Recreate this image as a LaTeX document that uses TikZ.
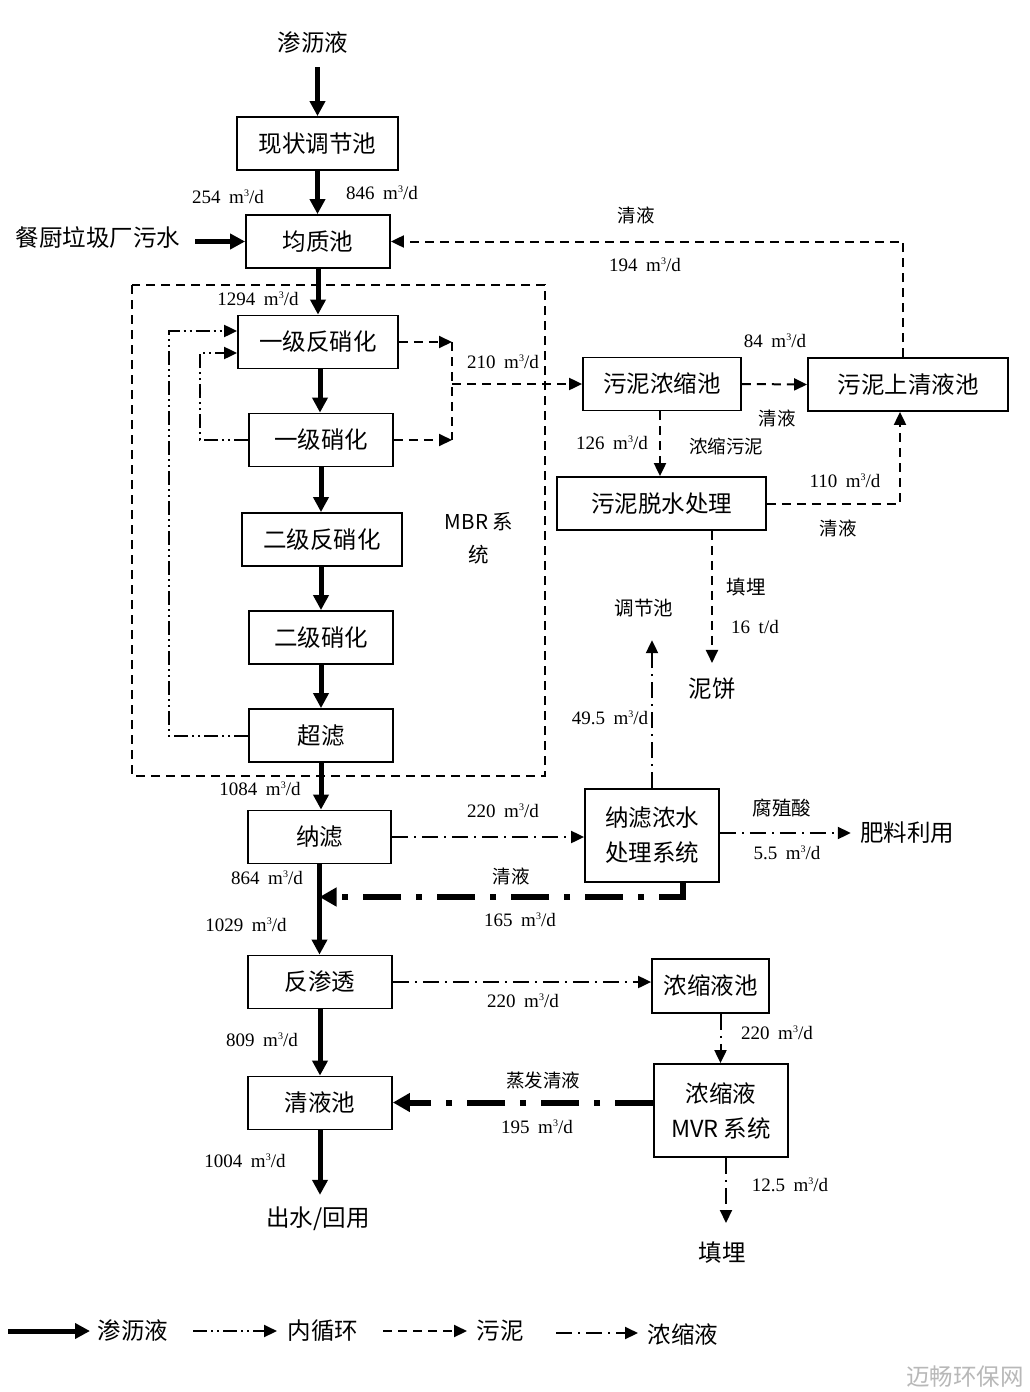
\documentclass[tikz,border=0pt]{standalone}
\usepackage{fontspec}
\setmainfont{Noto Sans CJK SC}
\newfontfamily\numf{Liberation Serif}
\usetikzlibrary{arrows.meta}
\newcommand\fq[1]{{\numf\fontsize{19}{22}\selectfont #1\hspace{0.45em}m\raisebox{0.75ex}{\fontsize{10}{10}\selectfont 3}/d}}
\tikzset{
  box/.style={draw, line width=1.8pt, inner sep=0pt, minimum height=53pt, font=\fontsize{23.5}{35}\selectfont, align=center},
  lab/.style={inner sep=1pt, font=\fontsize{18.5}{22}\selectfont},
  mid/.style={inner sep=1pt, font=\fontsize{19.5}{22}\selectfont},
  big/.style={inner sep=1pt, font=\fontsize{23.5}{26}\selectfont},
  num/.style={inner sep=1pt},
  flow/.style={line width=5pt, -{Triangle[length=15pt,width=15pt]}},
  sl/.style={line width=2pt, dash pattern=on 9pt off 6pt},
  sltip/.style={-{Triangle[length=13pt,width=12pt]}},
  inl/.style={line width=2pt, dash pattern=on 14pt off 4pt on 2pt off 4pt on 2pt off 4pt, -{Triangle[length=13pt,width=12pt]}},
  conc/.style={line width=2pt, dash pattern=on 16pt off 6pt on 2pt off 6pt, -{Triangle[length=13pt,width=12pt]}},
  tconc/.style={line width=6pt, dash pattern=on 38pt off 15pt on 6pt off 15pt, -{Triangle[length=17pt,width=18pt]}},
}
\begin{document}
\begin{tikzpicture}[x=1pt,y=-1pt]
\useasboundingbox[fill=white] (0,0) rectangle (1029,1392);

% MBR frame
\draw[sl] (132,285) rectangle (545,776);

% boxes
\node[box, minimum width=161pt] (tj) at (317.5,143.5) {现状调节池};
\node[box, minimum width=144pt] (jz) at (318,241.5) {均质池};
\node[box, minimum width=160pt] (f1) at (318,342) {一级反硝化};
\node[box, minimum width=144pt] (x1) at (321,440) {一级硝化};
\node[box, minimum width=160pt] (f2) at (322,539.5) {二级反硝化};
\node[box, minimum width=144pt] (x2) at (321,637.5) {二级硝化};
\node[box, minimum width=144pt] (cl) at (321,735.5) {超滤};
\node[box, minimum width=143pt] (nl) at (319.5,837) {纳滤};
\node[box, minimum width=144pt] (fs) at (320,982) {反渗透};
\node[box, minimum width=144pt] (qy) at (320,1103) {清液池};
\node[box, minimum width=158pt] (ns) at (662,384) {污泥浓缩池};
\node[box, minimum width=200pt] (sq) at (908,384.5) {污泥上清液池};
\node[box, minimum width=209pt] (ts) at (661.5,503.5) {污泥脱水处理};
\node[box, minimum width=134pt, minimum height=93pt] (nc) at (652,835.5) {纳滤浓水\\处理系统};
\node[box, minimum width=117pt, minimum height=54pt] (nyc) at (710.5,986) {浓缩液池};
\node[box, minimum width=134pt, minimum height=93pt] (mvr) at (721,1110.5) {浓缩液\\MVR 系统};

% free texts
\node[big] (src) at (313,43) {渗沥液};
\node[big] (cw) at (98,238) {餐厨垃圾厂污水};
\node[big] (nb) at (712,689) {泥饼};
\node[mid] (tjc) at (644,608) {调节池};
\node[big] (fl) at (907,833) {肥料利用};
\node[big] (out) at (318,1219) {出水/回用};
\node[big] (tm) at (722,1253) {填埋};
\node[inner sep=1pt, font=\fontsize{20.5}{33}\selectfont, align=center] (mbr) at (479,538) {MBR 系\\统};

% labels
\node[num] (l1) at (228,197) {\fq{254}};
\node[num] (l2) at (382,193) {\fq{846}};
\node[lab] (l3) at (636,215) {清液};
\node[num] (l4) at (645,265) {\fq{194}};
\node[num] (l5) at (258,299) {\fq{1294}};
\node[num] (l6) at (503,362) {\fq{210}};
\node[num] (l7) at (775,341) {\fq{84}};
\node[lab] (l8) at (777,418) {清液};
\node[num] (l9) at (612,443) {\fq{126}};
\node[lab] (l10) at (726,446) {浓缩污泥};
\node[num] (l11) at (845,481) {\fq{110}};
\node[lab] (l12) at (838,528) {清液};
\node[mid] (l13) at (746,587) {填埋};
\node[num] (l14) at (755,627) {{\numf\fontsize{19}{22}\selectfont 16\hspace{0.45em}t/d}};
\node[num] (l15) at (610,718) {\fq{49.5}};
\node[num] (l16) at (260,789) {\fq{1084}};
\node[num] (l17) at (503,811) {\fq{220}};
\node[mid] (l18) at (782,808) {腐殖酸};
\node[num] (l19) at (787,853) {\fq{5.5}};
\node[num] (l20) at (267,878) {\fq{864}};
\node[lab] (l21) at (511,876) {清液};
\node[num] (l22) at (520,920) {\fq{165}};
\node[num] (l23) at (246,925) {\fq{1029}};
\node[num] (l24) at (523,1001) {\fq{220}};
\node[num] (l25) at (777,1033) {\fq{220}};
\node[num] (l26) at (262,1040) {\fq{809}};
\node[lab] (l27) at (543,1080) {蒸发清液};
\node[num] (l28) at (537,1127) {\fq{195}};
\node[num] (l29) at (245,1161) {\fq{1004}};
\node[num] (l30) at (790,1185) {\fq{12.5}};

% main leachate flow
\draw[flow] ([yshift=-12pt]src.south -| tj.north) -- (tj.north);
\draw[flow] (tj.south) -- (tj.south |- jz.north);
\draw[flow] ([xshift=14pt]cw.east |- jz.west) -- (jz.west);
\draw[flow] (jz.south) -- (jz.south |- f1.north);
\draw[flow] ([xshift=2pt]f1.south) -- ([xshift=2pt]f1.south |- x1.north);
\draw[flow] (x1.south) -- (x1.south |- f2.north);
\draw[flow] (x2.north |- f2.south) -- (x2.north);
\draw[flow] (x2.south) -- (x2.south |- cl.north);
\draw[flow] (cl.south) -- (cl.south |- nl.north);
\draw[flow] (nl.south) -- (nl.south |- fs.north);
\draw[flow] (fs.south) -- (fs.south |- qy.north);
\draw[flow] (qy.south) -- ([yshift=11pt]out.north -| qy.south);

% inner circulation
\draw[inl] (cl.west) -- ++(-79,0) |- ([yshift=11pt]f1.west);
\draw[inl] (x1.west) -- ++(-48,0) |- ([yshift=-11pt]f1.west);

% sludge
\coordinate (j1) at (452,342);
\coordinate (j2) at (452,440);
\coordinate (j3) at (452,384);
\draw[sl, sltip] (f1.east) -- (j1);
\draw[sl, sltip] (x1.east) -- (j2);
\draw[sl] (j1) -- (j2);
\draw[sl, sltip] (j3) -- (ns.west);
\draw[sl, sltip] (ns.east) -- (sq.west);
\draw[sl, sltip] ([xshift=-2pt]ns.south) -- ([xshift=-2pt]ns.south |- ts.north);
\draw[sl, sltip] (ts.east) -| ([xshift=-8pt]sq.south);
\draw[sl, sltip] ([xshift=-5pt]sq.north) |- (jz.east);
\draw[sl, sltip] (ts.south -| nb.north) -- ([yshift=14pt]nb.north);

% concentrate
\draw[conc] (nl.east) -- (nl.east -| nc.west);
\draw[conc] (nc.north) -- ([yshift=-22pt]tjc.south -| nc.north);
\draw[conc] (nc.east |- fl.west) -- ([xshift=-8pt]fl.west);
\coordinate (m1) at (nl.south |- 0,897);
\draw[tconc] ([xshift=31pt]nc.south) |- (m1);
\draw[conc] (fs.east) -- (fs.east -| nyc.west);
\draw[conc] ([xshift=10pt]nyc.south) -- ([xshift=10pt]nyc.south |- mvr.north);
\draw[tconc] ([yshift=8pt]mvr.west) -- ([yshift=8pt]mvr.west -| qy.east);
\coordinate (mvs) at ([xshift=5pt]mvr.south);
\draw[conc] (mvs) -- ([yshift=18pt]tm.north -| mvs);

% legend
\coordinate (a1) at (8,1331);   \coordinate (a2) at (90,1331);
\coordinate (b1) at (193,1331); \coordinate (b2) at (277,1331);
\coordinate (c1) at (383,1331); \coordinate (c2) at (467,1331);
\coordinate (d1) at (556,1333); \coordinate (d2) at (638,1333);
\draw[flow] (a1) -- (a2);
\node[big] (t1) at (133,1331) {渗沥液};
\draw[inl] (b1) -- (b2);
\node[big] (t2) at (323,1331) {内循环};
\draw[sl, sltip] (c1) -- (c2);
\node[big] (t3) at (500,1331) {污泥};
\draw[conc] (d1) -- (d2);
\node[big] (t4) at (683,1335) {浓缩液};

% watermark
\node[big, text=black!28] (wm) at (965,1377) {迈畅环保网};
\end{tikzpicture}
\end{document}
